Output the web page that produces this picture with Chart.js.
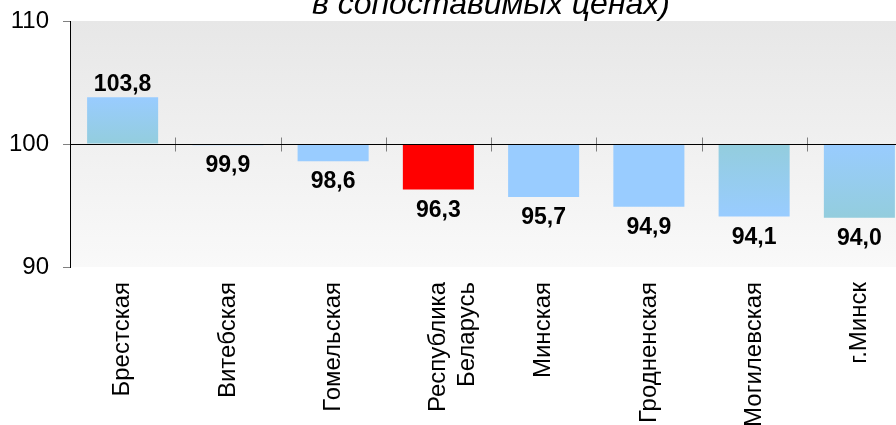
<!DOCTYPE html>
<html>
<head>
<meta charset="utf-8">
<script src="https://cdn.jsdelivr.net/npm/chart.js@4"></script>
<style>
  html, body { margin: 0; padding: 0; overflow: hidden; background: #fff; }
  #wrap { width: 912px; height: 425px; }
</style>
</head>
<body>
<div id="wrap"><canvas id="myChart"></canvas></div>
<script>
const regions = [
  'Брестская',
  'Витебская',
  'Гомельская',
  ['Республика', 'Беларусь'],
  'Минская',
  'Гродненская',
  'Могилевская',
  'г.Минск'
];
const indexValues = [103.8, 99.9, 98.6, 96.3, 95.7, 94.9, 94.1, 94.0];
const yTicks = [90, 100, 110];
const titleText = 'в сопоставимых ценах)';

const BLUE = '#99ccff';
const TEAL = '#93cddd';
// fill for each bar: [colour at top, colour at bottom]
const barFills = [
  [BLUE, TEAL], [BLUE, BLUE], [BLUE, BLUE], ['#ff0000', '#ff0000'],
  [BLUE, BLUE], [BLUE, BLUE], [TEAL, BLUE], [BLUE, TEAL]
];

function barColor(ctx) {
  const f = barFills[ctx.dataIndex];
  if (f[0] === f[1]) return f[0];
  const ys = ctx.chart.scales.y;
  if (!ys) return f[0];
  const p1 = ys.getPixelForValue(100), p2 = ys.getPixelForValue(indexValues[ctx.dataIndex]);
  if (!isFinite(p1) || !isFinite(p2) || Math.abs(p1 - p2) < 1) return f[0];
  const g = ctx.chart.ctx.createLinearGradient(0, Math.min(p1, p2), 0, Math.max(p1, p2));
  g.addColorStop(0, f[0]);
  g.addColorStop(1, f[1]);
  return g;
}

const plotBackground = {
  id: 'plotBackground',
  beforeDraw(chart) {
    const { ctx, chartArea: a } = chart;
    const g = ctx.createLinearGradient(0, a.top, 0, a.bottom);
    g.addColorStop(0, '#e7e7e7');
    g.addColorStop(1, '#f9f9f9');
    ctx.save();
    ctx.fillStyle = g;
    ctx.fillRect(a.left, a.top, a.right - a.left, a.bottom - a.top);
    ctx.restore();
  }
};

const baseLine = {
  id: 'baseLine',
  afterDatasetsDraw(chart) {
    const { ctx, chartArea: a, scales } = chart;
    const y = Math.round(scales.y.getPixelForValue(100)) + 0.5;
    const x = scales.x;
    const half = (x.getPixelForValue(1) - x.getPixelForValue(0)) / 2;
    ctx.save();
    ctx.strokeStyle = '#808080';
    ctx.lineWidth = 1;
    for (let i = 1; i < regions.length; i++) {
      const tx = Math.round(x.getPixelForValue(i) - half) + 0.5;
      ctx.beginPath();
      ctx.moveTo(tx, y - 7);
      ctx.lineTo(tx, y + 7);
      ctx.stroke();
    }
    ctx.strokeStyle = '#000';
    ctx.beginPath();
    ctx.moveTo(a.left, y);
    ctx.lineTo(a.right, y);
    ctx.stroke();

    // value labels
    ctx.fillStyle = '#000';
    ctx.font = 'bold 23px Arial, "Liberation Sans", sans-serif';
    ctx.textAlign = 'center';
    ctx.textBaseline = 'alphabetic';
    chart.getDatasetMeta(0).data.forEach((el, i) => {
      const v = indexValues[i];
      const txt = v.toFixed(1).replace('.', ',');
      const ly = v >= 100 ? el.y - 6 : el.y + 27;
      ctx.fillText(txt, el.x, ly);
    });

    // title
    ctx.font = 'italic 32px Arial, "Liberation Sans", sans-serif';
    ctx.fillText(titleText, (a.left + a.right) / 2, 14);
    ctx.restore();
  }
};

const config = {
  type: 'bar',
  data: {
    labels: regions,
    datasets: [{
      data: indexValues,
      base: 100,
      backgroundColor: barColor,
      borderWidth: 0,
      barPercentage: 0.675,
      categoryPercentage: 1
    }]
  },
  options: {
    responsive: true,
    maintainAspectRatio: false,
    animation: false,
    layout: { padding: { top: 21, left: 0, right: 0, bottom: 0 } },
    plugins: {
      legend: { display: false },
      tooltip: { enabled: false },
      title: { display: false }
    },
    scales: {
      x: {
        grid: { display: false },
        border: { display: false },
        ticks: {
          autoSkip: false,
          minRotation: 90,
          maxRotation: 90,
          padding: 7,
          color: '#000',
          font: { family: 'Arial, "Liberation Sans", sans-serif', size: 24 }
        },
        afterFit(s) { s.height = 158; }
      },
      y: {
        min: 90,
        max: 110,
        afterBuildTicks(s) { s.ticks = yTicks.map(v => ({ value: v })); },
        grid: { drawOnChartArea: false, drawTicks: true, tickLength: 7, color: '#808080' },
        border: { color: '#000', width: 1 },
        ticks: {
          padding: 14,
          color: '#000',
          font: { family: 'Arial, "Liberation Sans", sans-serif', size: 24 }
        },
        afterFit(s) { s.width = 70; s.paddingTop = 0; s.paddingBottom = 0; }
      }
    }
  },
  plugins: [plotBackground, baseLine]
};

var myChart = new Chart(document.getElementById('myChart'), config);
</script>
</body>
</html>
